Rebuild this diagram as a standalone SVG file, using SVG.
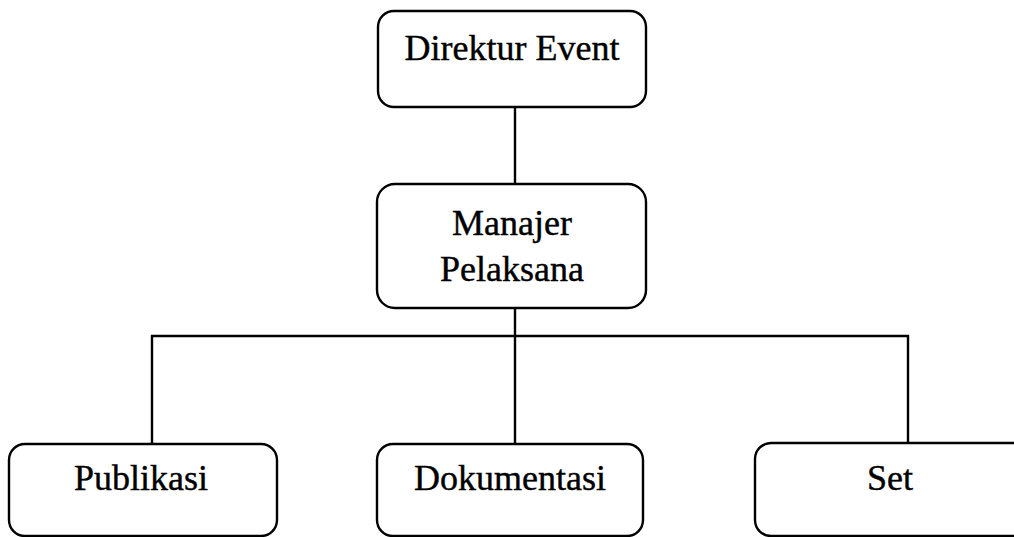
<svg xmlns="http://www.w3.org/2000/svg" width="1014" height="537" viewBox="0 0 1014 537">
<style>
.box{fill:#fff;stroke:#000;stroke-width:2.4}
.lbl{font-family:"Liberation Serif","Times New Roman",serif;font-size:36px;fill:#000;stroke:#000;stroke-width:0.4;text-anchor:middle}
.con{stroke:#000;stroke-width:2.4;fill:none}
</style>
<rect width="1014" height="537" fill="#fff"/>
<g id="connectors">
<line class="con" x1="515" y1="107" x2="515" y2="184"/>
<line class="con" x1="515" y1="308" x2="515" y2="444"/>
<polyline class="con" points="152,444 152,336 908,336 908,444"/>
</g>
<g id="direktur">
<rect class="box" x="378" y="11" width="268" height="96" rx="16"/>
<text class="lbl" x="512" y="60">Direktur Event</text>
</g>
<g id="manajer">
<rect class="box" x="377" y="184" width="269" height="124" rx="18"/>
<text class="lbl" x="512" y="235">Manajer</text>
<text class="lbl" x="512" y="281">Pelaksana</text>
</g>
<g id="publikasi">
<rect class="box" x="9" y="444" width="268" height="92" rx="16"/>
<text class="lbl" x="141" y="490">Publikasi</text>
</g>
<g id="dokumentasi">
<rect class="box" x="377" y="444" width="266" height="92" rx="16"/>
<text class="lbl" x="510" y="490">Dokumentasi</text>
</g>
<g id="set">
<rect class="box" x="755" y="443" width="280" height="93" rx="16"/>
<text class="lbl" x="890" y="490">Set</text>
</g>
</svg>
